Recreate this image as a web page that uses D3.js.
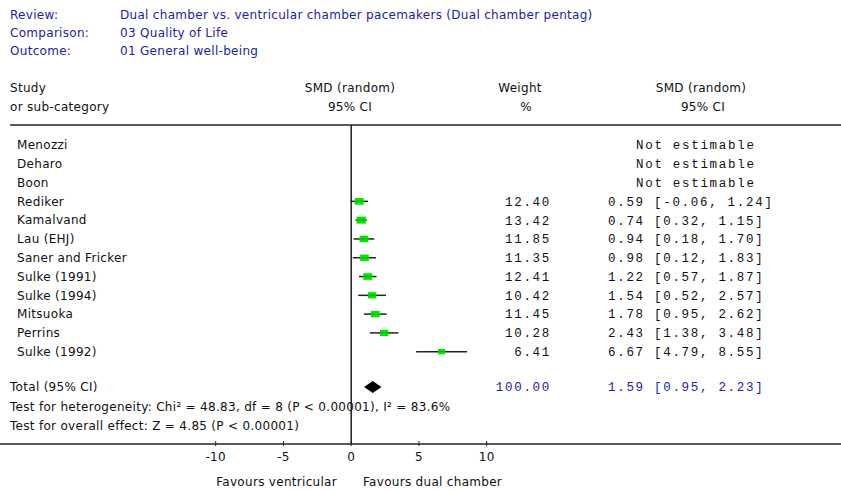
<!DOCTYPE html>
<html>
<head>
<meta charset="utf-8">
<script src="https://cdn.jsdelivr.net/npm/d3@7"></script>
<style>
  html, body { margin: 0; padding: 0; background: #fff; }
  svg { display: block; }
  text { font-family: "DejaVu Sans", Verdana, sans-serif; font-size: 12px; letter-spacing: 0.3px; fill: #111; }
  .mono { font-family: "Liberation Mono", "Courier New", monospace; font-size: 12.5px; letter-spacing: 1.7px; white-space: pre; }
  .blue { fill: #2222a8; }
</style>
</head>
<body>
<svg id="chart" width="841" height="491"></svg>
<script>
// ---- data ----
const headerLabels = ["Review:", "Comparison:", "Outcome:"];
const headerValues = ["Dual chamber vs. ventricular chamber pacemakers (Dual chamber pentag)", "03 Quality of Life", "01 General well-being"];
const studies = ["Menozzi", "Deharo", "Boon", "Rediker", "Kamalvand", "Lau (EHJ)", "Saner and Fricker", "Sulke (1991)", "Sulke (1994)", "Mitsuoka", "Perrins", "Sulke (1992)"];
const weights = [null, null, null, 12.40, 13.42, 11.85, 11.35, 12.41, 10.42, 11.45, 10.28, 6.41];
const smd     = [null, null, null, 0.59, 0.74, 0.94, 0.98, 1.22, 1.54, 1.78, 2.43, 6.67];
const lower   = [null, null, null, -0.06, 0.32, 0.18, 0.12, 0.57, 0.52, 0.95, 1.38, 4.79];
const upper   = [null, null, null, 1.24, 1.15, 1.70, 1.83, 1.87, 2.57, 2.62, 3.48, 8.55];
const totalLabel = "Total (95% CI)";
const totalWeight = 100.00;
const totalEst = 1.59, totalLo = 0.95, totalHi = 2.23;
const heterogeneity = "Test for heterogeneity: Chi² = 48.83, df = 8 (P < 0.00001), I² = 83.6%";
const overallEffect = "Test for overall effect: Z = 4.85 (P < 0.00001)";
const axisTicks = [-10, -5, 0, 5, 10];
const favoursLeft = "Favours ventricular";
const favoursRight = "Favours dual chamber";

// ---- layout ----
const svg = d3.select("#chart");
const x = d3.scaleLinear().domain([-10, 10]).range([215.7, 486.7]);
const y = d3.scaleLinear().domain([0, studies.length - 1]).range([145, 351.7]);
const boxSize = d3.scaleLinear().domain([6, 14]).range([7, 9.5]);
const headerTop = 125, axisY = 444;
const weightRight = 551, ciLeft = 608;

// header
svg.selectAll("text.hl").data(headerLabels).join("text")
  .attr("class", "hl blue").attr("x", 10).attr("y", (d, i) => 14.5 + i * 18)
  .attr("dy", "0.35em").text(d => d);
svg.selectAll("text.hv").data(headerValues).join("text")
  .attr("class", "hv blue").attr("x", 120).attr("y", (d, i) => 14.5 + i * 18)
  .attr("dy", "0.35em").text(d => d);

// column headers
const colHead = [
  {t: "Study", x: 10, y: 88, a: "start"},
  {t: "or sub-category", x: 10, y: 107, a: "start"},
  {t: "SMD (random)", x: 350, y: 88, a: "middle"},
  {t: "95% CI", x: 350, y: 107, a: "middle"},
  {t: "Weight", x: 520, y: 88, a: "middle"},
  {t: "%", x: 526, y: 107, a: "middle"},
  {t: "SMD (random)", x: 701, y: 88, a: "middle"},
  {t: "95% CI", x: 703, y: 107, a: "middle"}
];
svg.selectAll("text.ch").data(colHead).join("text")
  .attr("class", "ch").attr("x", d => d.x).attr("y", d => d.y)
  .attr("dy", "0.35em").attr("text-anchor", d => d.a).text(d => d.t);

// rules
svg.append("line").attr("x1", 10).attr("x2", 841).attr("y1", headerTop).attr("y2", headerTop)
  .attr("stroke", "#222").attr("stroke-width", 1.6);
svg.append("line").attr("x1", x(0)).attr("x2", x(0)).attr("y1", headerTop).attr("y2", axisY)
  .attr("stroke", "#111").attr("stroke-width", 1.4);

// axis
const axisG = svg.append("g").attr("transform", `translate(0,${axisY})`);
axisG.append("line").attr("x1", 0).attr("x2", 841).attr("stroke", "#222").attr("stroke-width", 1.4);
axisG.selectAll("line.tk").data(axisTicks).join("line").attr("class", "tk")
  .attr("x1", d => x(d)).attr("x2", d => x(d)).attr("y1", -3).attr("y2", 2)
  .attr("stroke", "#222").attr("stroke-width", 1);
axisG.selectAll("text.tl").data(axisTicks).join("text").attr("class", "tl")
  .attr("x", d => x(d)).attr("y", 13).attr("dy", "0.35em").attr("text-anchor", "middle")
  .text(d => d);
svg.append("text").attr("x", 337).attr("y", 482).attr("dy", "0.35em").attr("text-anchor", "end").text(favoursLeft);
svg.append("text").attr("x", 363).attr("y", 482).attr("dy", "0.35em").text(favoursRight);

// study rows
const rows = studies.map((s, i) => ({s, i, w: weights[i], e: smd[i], lo: lower[i], hi: upper[i]}));
svg.selectAll("text.st").data(rows).join("text").attr("class", "st")
  .attr("x", 17).attr("y", d => y(d.i)).attr("dy", "0.35em").text(d => d.s);

const est = rows.filter(d => d.e !== null);
svg.selectAll("line.ci").data(est).join("line").attr("class", "ci")
  .attr("x1", d => x(d.lo)).attr("x2", d => x(d.hi))
  .attr("y1", d => y(d.i)).attr("y2", d => y(d.i))
  .attr("stroke", "#222").attr("stroke-width", 1.5);
svg.selectAll("rect.bx").data(est).join("rect").attr("class", "bx")
  .attr("x", d => x(d.e) - boxSize(d.w) / 2)
  .attr("y", d => y(d.i) - boxSize(d.w) * 0.37)
  .attr("width", d => boxSize(d.w)).attr("height", d => boxSize(d.w) * 0.74)
  .attr("fill", "#00e600");
svg.selectAll("line.mid").data(est).join("line").attr("class", "mid")
  .attr("x1", d => x(d.e) - boxSize(d.w) / 2 + 1).attr("x2", d => x(d.e) + boxSize(d.w) / 2 - 1)
  .attr("y1", d => y(d.i)).attr("y2", d => y(d.i))
  .attr("stroke", "#00a800").attr("stroke-width", 1);

svg.selectAll("text.wt").data(est).join("text").attr("class", "wt mono")
  .attr("x", weightRight).attr("y", d => y(d.i)).attr("dy", "0.35em").attr("text-anchor", "end")
  .text(d => d.w.toFixed(2));
const fmtCI = (e, lo, hi) => `${e.toFixed(2)} [${lo.toFixed(2)}, ${hi.toFixed(2)}]`;
svg.selectAll("text.cit").data(rows).join("text").attr("class", "cit mono")
  .attr("x", d => d.e === null ? 636 : ciLeft).attr("y", d => y(d.i)).attr("dy", "0.35em")
  .text(d => d.e === null ? "Not estimable" : fmtCI(d.e, d.lo, d.hi));

// total
const totalY = 387;
svg.append("text").attr("x", 10).attr("y", totalY).attr("dy", "0.35em").text(totalLabel);
svg.append("path")
  .attr("d", `M${x(totalLo)},${totalY} L${x(totalEst)},${totalY - 6} L${x(totalHi)},${totalY} L${x(totalEst)},${totalY + 6} Z`)
  .attr("fill", "#000");
svg.append("text").attr("class", "mono blue").attr("x", weightRight).attr("y", totalY).attr("dy", "0.35em")
  .attr("text-anchor", "end").text(totalWeight.toFixed(2));
svg.append("text").attr("class", "mono blue").attr("x", ciLeft).attr("y", totalY).attr("dy", "0.35em")
  .text(fmtCI(totalEst, totalLo, totalHi));
svg.append("text").attr("x", 10).attr("y", 407).attr("dy", "0.35em").text(heterogeneity);
svg.append("text").attr("x", 10).attr("y", 426).attr("dy", "0.35em").text(overallEffect);
</script>
</body>
</html>
